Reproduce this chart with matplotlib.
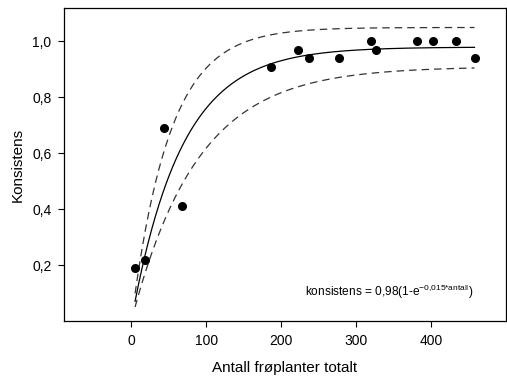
import numpy as np
import matplotlib
matplotlib.use('Agg')
from matplotlib import pyplot as plt
from matplotlib.ticker import FuncFormatter

plt.rcParams['font.family'] = ['Liberation Sans', 'DejaVu Sans']
plt.rcParams['mathtext.fontset'] = 'custom'
plt.rcParams['mathtext.rm'] = 'Liberation Sans'

# observed points
antall = [5, 18, 43, 68, 187, 223, 237, 277, 320, 326, 381, 402, 433, 458]
konsistens = [0.19, 0.22, 0.69, 0.41, 0.91, 0.97, 0.94, 0.94, 1.0, 0.97, 1.0, 1.0, 1.0, 0.94]

# fitted model konsistens = a(1-exp(-b*antall)) and its confidence bands
fit_a, fit_b = 0.98, 0.015
upper_a, upper_b = 1.05, 0.0198
lower_a, lower_b = 0.91, 0.0114

xticks = [0, 100, 200, 300, 400]
yticks = [0.2, 0.4, 0.6, 0.8, 1.0]

fig = plt.figure(figsize=(5.07, 3.76), dpi=100)
ax = fig.add_axes([0.126, 0.146, 0.872, 0.833])

xs = np.linspace(min(antall), max(antall), 300)
ax.plot(xs, fit_a * (1 - np.exp(-fit_b * xs)), color='black', lw=0.9)
ax.plot(xs, upper_a * (1 - np.exp(-upper_b * xs)), color='#333333', lw=0.9, dashes=(6, 4))
ax.plot(xs, lower_a * (1 - np.exp(-lower_b * xs)), color='#333333', lw=0.9, dashes=(6, 4))
ax.plot(antall, konsistens, 'o', color='black', ms=5.5)

ax.set_xlim(-90, 500)
ax.set_ylim(0, 1.12)
ax.set_xticks(xticks)
ax.set_yticks(yticks)
ax.yaxis.set_major_formatter(FuncFormatter(lambda v, p: ('%.1f' % v).replace('.', ',')))
ax.tick_params(direction='out', length=4, width=0.8, labelsize=10, pad=5)
for s in ax.spines.values():
    s.set_linewidth(0.9)

ax.set_xlabel('Antall frøplanter totalt', fontsize=11, labelpad=10)
ax.set_ylabel('Konsistens', fontsize=11, labelpad=5)

ax.text(0.925, 0.065, r'konsistens = 0,98(1-e$^{\mathregular{-0{,}015{*}antall}}$)',
        transform=ax.transAxes, ha='right', va='bottom', fontsize=8.6)

plt.savefig('out.png', dpi=100)
